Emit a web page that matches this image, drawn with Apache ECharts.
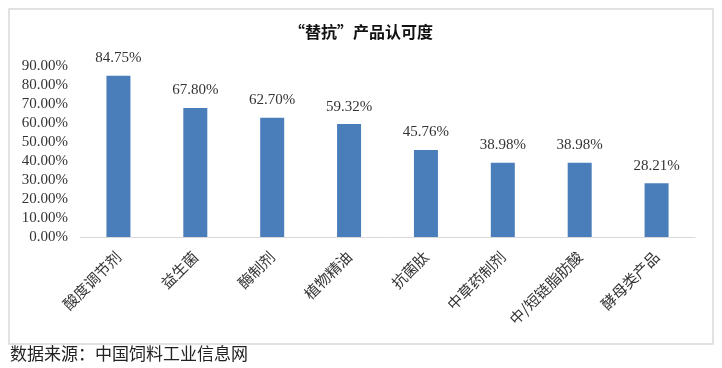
<!DOCTYPE html>
<html><head><meta charset="utf-8">
<script src="https://cdn.jsdelivr.net/npm/echarts@6/dist/echarts.min.js"></script>
<style>html,body{margin:0;padding:0;background:#fff}#c{width:722px;height:368px}</style>
</head><body><div id="c"></div>
<script>
var categories = ['酸度调节剂', '益生菌', '酶制剂', '植物精油', '抗菌肽', '中草药制剂', '中/短链脂肪酸', '酵母类产品'];
var values = [84.75, 67.80, 62.70, 59.32, 45.76, 38.98, 38.98, 28.21];
var titleText = '“替抗”产品认可度';
var sourceText = '数据来源：中国饲料工业信息网';

var chart = echarts.init(document.getElementById('c'), null, {renderer: 'canvas'});
chart.setOption({
  animation: false,
  backgroundColor: '#fff',
  title: {
    text: titleText, left: 'center', top: 19,
    textStyle: {fontFamily: 'Noto Sans CJK SC', fontWeight: 'bold', fontSize: 16, color: '#111'}
  },
  graphic: [
    {type: 'rect', shape: {x: 9, y: 9, width: 704, height: 335}, style: {fill: 'none', stroke: '#d9d9d9', lineWidth: 1.5}, z: -1},
    {type: 'text', left: 10, top: 345, style: {text: sourceText, font: '17px "Noto Sans CJK SC"', fill: '#222'}}
  ],
  grid: {left: 80, right: 27, top: 65.7, bottom: 131, containLabel: false},
  xAxis: {
    type: 'category', data: categories,
    axisLine: {lineStyle: {color: '#d9d9d9', width: 1}},
    axisTick: {show: false},
    axisLabel: {rotate: 45, interval: 0, margin: 17, fontFamily: 'Noto Sans CJK SC', fontSize: 15, color: '#333'}
  },
  yAxis: {
    type: 'value', min: 0, max: 90, interval: 10,
    axisLine: {show: false}, axisTick: {show: false}, splitLine: {show: false},
    axisLabel: {margin: 12, fontFamily: 'Liberation Serif', fontSize: 15, color: '#333',
      formatter: function (v) { return v.toFixed(2) + '%'; }}
  },
  series: [{
    type: 'bar', data: values, barWidth: 24,
    itemStyle: {color: '#4a7ebb'},
    label: {show: true, position: 'top', distance: 10, fontFamily: 'Liberation Serif', fontSize: 15, color: '#333',
      formatter: function (p) { return p.value.toFixed(2) + '%'; }}
  }]
});
</script></body></html>
